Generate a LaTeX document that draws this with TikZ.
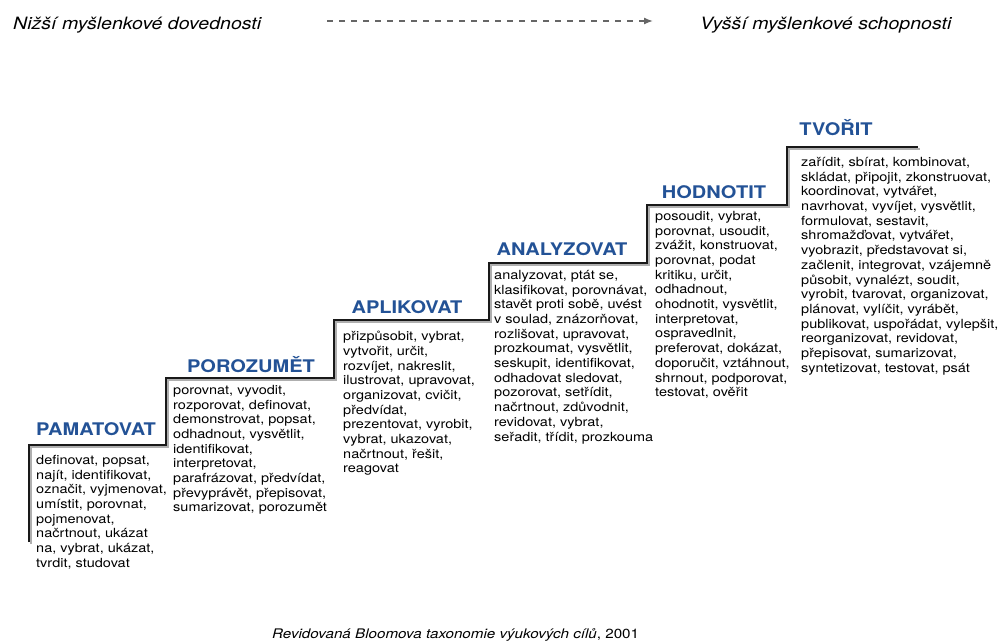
\documentclass[tikz,border=0pt]{standalone}
\usepackage{fontspec}
\setmainfont{TeX Gyre Heros}[FakeStretch=1.15]
\usetikzlibrary{arrows.meta}
\definecolor{levelblue}{RGB}{35,82,150}
\definecolor{stairshade}{RGB}{175,175,175}

\begin{document}
\begin{tikzpicture}[x=1pt,y=-1pt,>={Latex[length=9pt,width=7pt]},
  level/.style={font=\fontsize{17.4}{20}\selectfont\bfseries,text=levelblue,inner sep=0,anchor=base},
  verbs/.style={font=\fontsize{12.6}{14.7}\selectfont,text=black,align=left,anchor=north west,inner sep=0},
  side/.style={font=\fontsize{17}{20}\selectfont\itshape,inner sep=0,anchor=base west}]
  \useasboundingbox (0,0) rectangle (1001,641);
  % direction of thinking
  \node[side] (low) at (13,29) {Nižší myšlenkové dovednosti};
  \node[side] (high) at (700,29) {Vyšší myšlenkové schopnosti};
  \coordinate (from) at (327,21);
  \coordinate (to) at (653,21);
  \draw[->,black!60,line width=1.4pt,dash pattern=on 6pt off 6pt] (from) -- (to);
  % stairs
  \draw[stairshade,line width=2pt,shift={(1.5,1.5)}] (29,542) |- (166,445) |- (334,378) |- (489,320) |- (647,263) |- (787,205) |- (918,147);
  \draw[black!90,line width=2.4pt] (29,542) |- (166,445) |- (334,378) |- (489,320) |- (647,263) |- (787,205) |- (918,147);
  % levels
  \node[level] (pamatovat) at (96,435) {PAMATOVAT};
  \node[level] (porozumet) at (251,372) {POROZUMĚT};
  \node[level] (aplikovat) at (407,313) {APLIKOVAT};
  \node[level] (analyzovat) at (562,255) {ANALYZOVAT};
  \node[level] (hodnotit) at (714,198) {HODNOTIT};
  \node[level] (tvorit) at (836,135) {TVOŘIT};
  % verbs
  \node[verbs] (pamatovat-v) at (36,455) {definovat, popsat,\\najít, identifikovat,\\označit, vyjmenovat,\\umístit, porovnat,\\pojmenovat,\\načrtnout, ukázat\\na, vybrat, ukázat,\\tvrdit, studovat};
  \node[verbs] (porozumet-v) at (173,385) {porovnat, vyvodit,\\rozporovat, definovat,\\demonstrovat, popsat,\\odhadnout, vysvětlit,\\identifikovat,\\interpretovat,\\parafrázovat, předvídat,\\převyprávět, přepisovat,\\sumarizovat, porozumět};
  \node[verbs] (aplikovat-v) at (343,331) {přizpůsobit, vybrat,\\vytvořit, určit,\\rozvíjet, nakreslit,\\ilustrovat, upravovat,\\organizovat, cvičit,\\předvídat,\\prezentovat, vyrobit,\\vybrat, ukazovat,\\načrtnout, řešit,\\reagovat};
  \node[verbs] (analyzovat-v) at (494,270) {analyzovat, ptát se,\\klasifikovat, porovnávat,\\stavět proti sobě, uvést\\v soulad, znázorňovat,\\rozlišovat, upravovat,\\prozkoumat, vysvětlit,\\seskupit, identifikovat,\\odhadovat sledovat,\\pozorovat, setřídit,\\načrtnout, zdůvodnit,\\revidovat, vybrat,\\seřadit, třídit, prozkouma};
  \node[verbs] (hodnotit-v) at (655,211) {posoudit, vybrat,\\porovnat, usoudit,\\zvážit, konstruovat,\\porovnat, podat\\kritiku, určit,\\odhadnout,\\ohodnotit, vysvětlit,\\interpretovat,\\ospravedlnit,\\preferovat, dokázat,\\doporučit, vztáhnout,\\shrnout, podporovat,\\testovat, ověřit};
  \node[verbs] (tvorit-v) at (801,157) {zařídit, sbírat, kombinovat,\\skládat, připojit, zkonstruovat,\\koordinovat, vytvářet,\\navrhovat, vyvíjet, vysvětlit,\\formulovat, sestavit,\\shromažďovat, vytvářet,\\vyobrazit, představovat si,\\začlenit, integrovat, vzájemně\\působit, vynalézt, soudit,\\vyrobit, tvarovat, organizovat,\\plánovat, vylíčit, vyrábět,\\publikovat, uspořádat, vylepšit,\\reorganizovat, revidovat,\\přepisovat, sumarizovat,\\syntetizovat, testovat, psát};
  % source
  \node[font=\fontsize{13.2}{16}\selectfont,inner sep=0,anchor=base west] (source) at (272,638) {\textit{Revidovaná Bloomova taxonomie výukových cílů}, 2001};
\end{tikzpicture}
\end{document}
